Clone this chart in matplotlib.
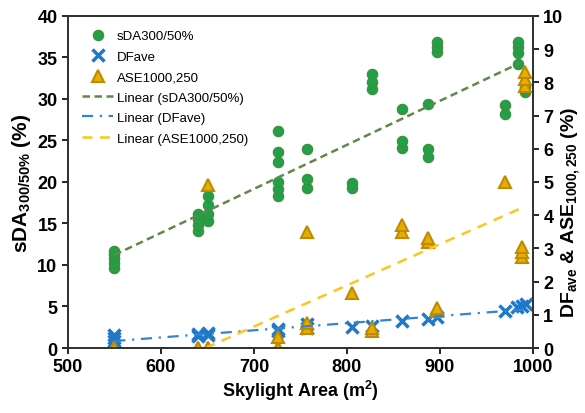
import numpy as np
import matplotlib
matplotlib.use('Agg')
import matplotlib.pyplot as plt

plt.rcParams['font.family'] = ['Liberation Sans', 'DejaVu Sans']
plt.rcParams['mathtext.fontset'] = 'custom'
plt.rcParams['mathtext.rm'] = 'Liberation Sans:bold'
plt.rcParams['mathtext.it'] = 'Liberation Sans:bold'
plt.rcParams['mathtext.bf'] = 'Liberation Sans:bold'

# sDA300/50% (left axis)
sda_x = [550, 550, 550, 550, 550,
         640, 640, 640, 640,
         651, 651, 651, 651,
         726, 726, 726, 726, 726, 726,
         757, 757, 757,
         806, 806,
         827, 827, 827,
         859, 859, 859,
         887, 887, 887,
         897, 897, 897,
         970, 970,
         984, 984, 984, 984,
         992, 992]
sda_y = [9.6, 10.2, 10.8, 11.3, 11.7,
         14.1, 14.8, 15.5, 16.1,
         15.3, 16.2, 17.2, 18.3,
         18.3, 19.2, 20.0, 22.4, 23.6, 26.1,
         19.3, 20.3, 24.0,
         19.3, 19.9,
         31.2, 32.0, 33.0,
         24.1, 24.9, 28.8,
         23.0, 24.0, 29.4,
         35.7, 36.3, 36.9,
         28.2, 29.3,
         34.2, 35.5, 36.3, 36.9,
         30.8, 31.5]

# DFave (right axis)
df_x = [550, 550, 550, 640, 640, 651, 651, 726, 726, 757, 757,
        806, 827, 859, 887, 897, 970, 983, 988, 993]
df_y = [0.2, 0.3, 0.38, 0.35, 0.42, 0.4, 0.45, 0.5, 0.56, 0.6, 0.72,
        0.63, 0.66, 0.81, 0.87, 0.93, 1.1, 1.22, 1.27, 1.32]

# ASE1000,250 (right axis)
ase_x = [550, 550, 550, 640, 640, 651, 651, 651, 726, 726, 726,
         757, 757, 757, 806, 827, 827, 859, 859, 887, 887, 897, 897,
         970, 988, 988, 988, 992, 992, 992]
ase_y = [0, 0, 0, 0, 0, 0, 0, 4.9, 0, 0, 0.33,
         0.6, 0.75, 3.5, 1.65, 0.5, 0.6, 3.5, 3.7, 3.2, 3.3, 1.1, 1.2,
         5.0, 2.75, 2.9, 3.05, 7.9, 8.1, 8.3]

# ASE linear trendline as drawn (clipped at 0)
ase_trend_x = [648, 992]
ase_trend_y = [0, 4.27]

fig = plt.figure(figsize=(5.85, 4.14), dpi=100)
ax = fig.add_axes([0.116, 0.157, 0.795, 0.802])
ax2 = ax.twinx()

green = '#23A047'
blue = '#1F78C8'
gold = '#E6AF00'

h1, = ax.plot(sda_x, sda_y, 'o', color=green, mec='#3C8E3C', ms=7.5, mew=0.8,
              label='sDA300/50%')
h2, = ax2.plot(df_x, df_y, 'x', color=blue, ms=8, mew=2.5, label='DFave')
h3, = ax2.plot(ase_x, ase_y, '^', color=gold, mec='#C08A00', ms=8, mew=1.5,
               label='ASE1000,250')

# linear trendlines
p = np.polyfit(sda_x, sda_y, 1)
h4, = ax.plot([550, 985], np.polyval(p, [550, 985]), '--', color='#62884A',
              lw=1.8, dashes=(3, 1.8), label='Linear (sDA300/50%)')
p = np.polyfit(df_x, df_y, 1)
h5, = ax2.plot([550, 992], np.polyval(p, [550, 992]), color='#2E86D4',
               lw=1.6, dashes=(5, 3, 1, 3), label='Linear (DFave)')
h6, = ax2.plot(ase_trend_x, ase_trend_y, '--', color='#FFC61A', lw=1.8,
               dashes=(4, 3), label='Linear (ASE1000,250)')

ax.set_xlim(500, 1000)
ax.set_ylim(0, 40)
ax2.set_ylim(0, 10)
ax.set_xticks(np.arange(500, 1001, 100))
ax.set_yticks(np.arange(0, 41, 5))
ax2.set_yticks(np.arange(0, 11, 1))

for a in (ax, ax2):
    a.tick_params(direction='out', length=4, width=1.2, labelsize=13)
    for lab in a.get_xticklabels() + a.get_yticklabels():
        lab.set_fontweight('bold')
    for s in a.spines.values():
        s.set_linewidth(1.4)
        s.set_color('#333333')

ax.set_xlabel(r'Skylight Area (m$^{\mathrm{2}}$)', fontsize=13, fontweight='bold',
              labelpad=2)
ax.set_ylabel(r'sDA$_{\mathrm{300/50\%}}$ (%)', fontsize=15, fontweight='bold',
              labelpad=3)
ax2.set_ylabel(r'DF$_{\mathrm{ave}}$ & ASE$_{\mathrm{1000,250}}$ (%)', fontsize=14,
               fontweight='bold')
ax2.yaxis.set_label_coords(1.057, 0.41)

ax.legend(handles=[h1, h2, h3, h4, h5, h6], loc='upper left', frameon=False,
          fontsize=9.5, handlelength=2.4, handletextpad=0.25, labelspacing=0.62,
          borderaxespad=0.3, bbox_to_anchor=(0.01, 0.985))

fig.savefig('out.png', dpi=100)
